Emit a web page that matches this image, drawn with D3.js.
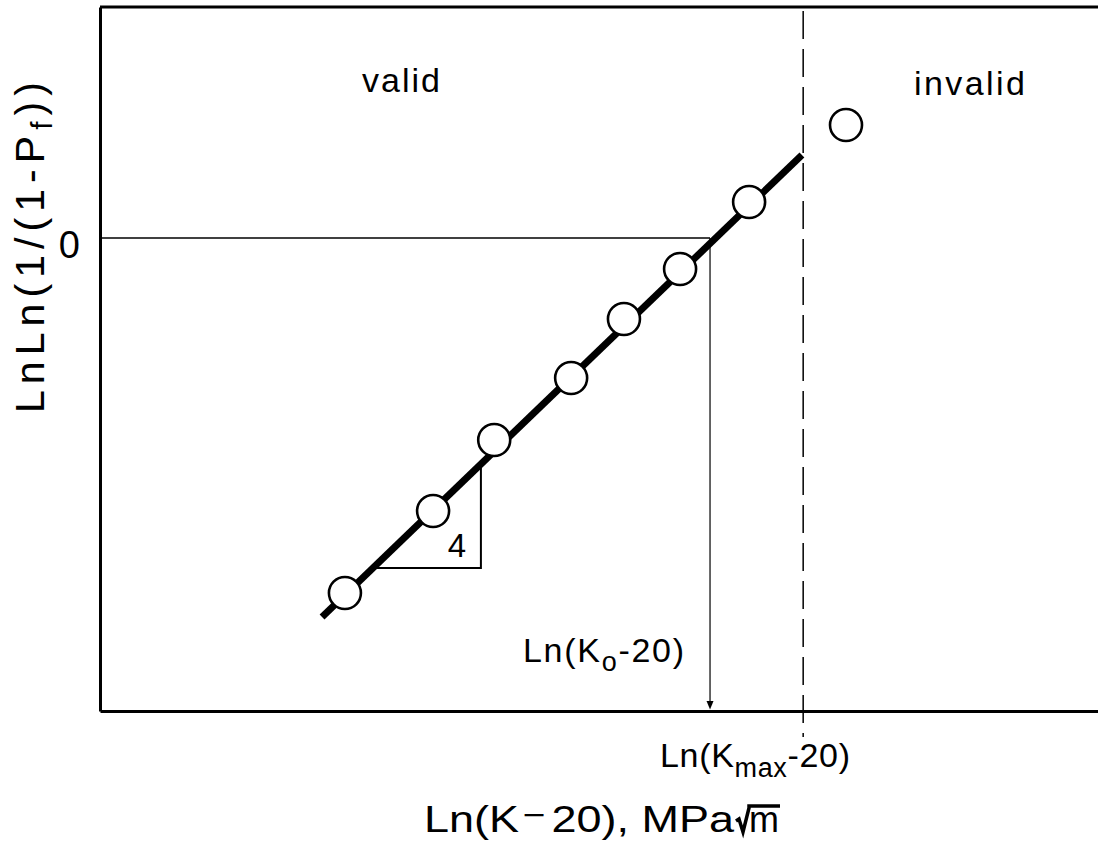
<!DOCTYPE html>
<html><head><meta charset="utf-8">
<script src="https://cdn.jsdelivr.net/npm/d3@7"></script>
<style>
html,body{margin:0;padding:0;background:#fff;}
svg{display:block;}
text{font-family:"Liberation Sans",Arial,sans-serif;fill:#000;}
</style></head>
<body>
<svg id="chart" width="1098" height="845"></svg>
<script>
// ---- data (arbitrary log units) ----
const validLnK = [2.589, 2.801, 2.948, 3.133, 3.260, 3.395, 3.561];
const validLnLn = [-3.55, -2.73, -2.02, -1.40, -0.81, -0.31, 0.36];
const invalidLnK = [3.794];
const invalidLnLn = [1.13];
const fitLnK = [2.534, 3.688];
const fitLnLn = [-3.79, 0.83];
const slopeTriLnK = [2.666, 2.916, 2.916];
const slopeTriLnLn = [-3.30, -3.30, -2.28];
const slopeLabel = "4";
const lnK0 = 3.467;
const lnKmax = 3.691;
const yTickValues = [0];
const xDomain = [2.0, 4.4];
const yDomain = [-4.73, 2.31];

const svg = d3.select("#chart");
const x = d3.scaleLinear().domain(xDomain).range([100, 1098]);
const y = d3.scaleLinear().domain(yDomain).range([711, 7]);

// frame: top border, left axis, bottom axis
svg.append("line").attr("x1", x(xDomain[0])).attr("x2", x(xDomain[1]))
  .attr("y1", y(yDomain[1])).attr("y2", y(yDomain[1]))
  .attr("stroke", "#000").attr("stroke-width", 3);

const yAxis = d3.axisLeft(y).tickValues(yTickValues).tickSize(0).tickPadding(20).tickFormat(d3.format("d"));
const gy = svg.append("g").attr("transform", `translate(${x(xDomain[0])},0)`).call(yAxis);
gy.select(".domain").attr("stroke", "#000").attr("stroke-width", 3);
gy.selectAll(".tick text").attr("font-size", 38).attr("font-family", "Liberation Sans, Arial, sans-serif").attr("dy", "0.5em");

const xAxis = d3.axisBottom(x).tickValues([]).tickSize(0);
const gx = svg.append("g").attr("transform", `translate(0,${y(yDomain[0])})`).call(xAxis);
gx.select(".domain").attr("stroke", "#000").attr("stroke-width", 3);

// zero reference line up to K0
svg.append("line").attr("x1", x(xDomain[0])).attr("x2", x(lnK0))
  .attr("y1", y(0)).attr("y2", y(0)).attr("stroke", "#000").attr("stroke-width", 1.5);
// vertical arrow down from K0
svg.append("line").attr("x1", x(lnK0)).attr("x2", x(lnK0))
  .attr("y1", y(0)).attr("y2", y(yDomain[0]) - 6).attr("stroke", "#000").attr("stroke-width", 1.2);
svg.append("path")
  .attr("d", `M${x(lnK0) - 3.5},${y(yDomain[0]) - 10} L${x(lnK0) + 3.5},${y(yDomain[0]) - 10} L${x(lnK0)},${y(yDomain[0]) - 1.5} Z`)
  .attr("fill", "#000");

// dashed Kmax line
svg.append("line").attr("x1", x(lnKmax)).attr("x2", x(lnKmax))
  .attr("y1", y(yDomain[1]) + 4).attr("y2", y(-4.99))
  .attr("stroke", "#000").attr("stroke-width", 1.5).attr("stroke-dasharray", "28,10");

// slope triangle
svg.append("path")
  .attr("d", d3.line().x((d, i) => x(slopeTriLnK[i])).y((d, i) => y(slopeTriLnLn[i]))(slopeTriLnK))
  .attr("fill", "none").attr("stroke", "#000").attr("stroke-width", 2);
svg.append("text").attr("x", x(slopeTriLnK[1]) - 24).attr("y", y(slopeTriLnLn[0]) - 11)
  .attr("text-anchor", "middle").attr("font-size", 33).text(slopeLabel);

// fit line
svg.append("path")
  .attr("d", d3.line().x((d, i) => x(fitLnK[i])).y((d, i) => y(fitLnLn[i]))(fitLnK))
  .attr("fill", "none").attr("stroke", "#000").attr("stroke-width", 7).attr("stroke-linecap", "butt");

// points
const pts = validLnK.map((v, i) => [v, validLnLn[i]]).concat(invalidLnK.map((v, i) => [v, invalidLnLn[i]]));
svg.selectAll("circle.pt").data(pts).enter().append("circle").attr("class", "pt")
  .attr("cx", d => x(d[0])).attr("cy", d => y(d[1])).attr("r", 16)
  .attr("fill", "#fff").attr("stroke", "#000").attr("stroke-width", 2.6);

// region labels
svg.append("text").attr("x", 362).attr("y", 92).attr("font-size", 34)
  .attr("textLength", 78).attr("lengthAdjust", "spacing").text("valid");
svg.append("text").attr("x", 914).attr("y", 95).attr("font-size", 34)
  .attr("textLength", 111).attr("lengthAdjust", "spacing").text("invalid");

// helper for rich text
function rich(parent, parts, attrs) {
  const t = parent.append("text");
  Object.entries(attrs).forEach(([k, v]) => t.attr(k, v));
  parts.forEach(p => {
    const s = t.append("tspan").text(p.t);
    if (p.dy) s.attr("dy", p.dy);
    if (p.dx) s.attr("dx", p.dx);
    if (p.size) s.attr("font-size", p.size);
  });
  return t;
}

// K0 label
rich(svg, [{t: "Ln(K"}, {t: "o", dy: 9, size: 27}, {t: "-20)", dy: -9}],
  {x: 523, y: 662, "font-size": 34, textLength: 161, lengthAdjust: "spacing"});
// Kmax label
rich(svg, [{t: "Ln(K"}, {t: "max", dy: 10, size: 27}, {t: "-20)", dy: -10}],
  {x: 660, y: 767, "font-size": 34, textLength: 190, lengthAdjust: "spacing"});

// y axis title
rich(svg, [{t: "LnLn(1/(1-P"}, {t: "f", dy: 8, size: 30}, {t: "))", dy: -8}],
  {transform: "translate(44,413) rotate(-90)", "font-size": 41, textLength: 331, lengthAdjust: "spacing"});

// x axis title with radical
const b = 832;
const xStart = 424, xEnd = 734;
rich(svg, [{t: "Ln(K"}, {t: "\u2212", dy: -6, dx: 3, size: 32}, {t: "20), MPa", dy: 6, dx: 5}],
  {x: xStart, y: b, "font-size": 37, textLength: xEnd - xStart, lengthAdjust: "spacingAndGlyphs"});
const mx = xEnd + 15;
svg.append("text").attr("x", mx).attr("y", b).attr("font-size", 37)
  .attr("textLength", 30).attr("lengthAdjust", "spacingAndGlyphs").text("m");
const mw = 31;
svg.append("path")
  .attr("d", `M${xEnd + 2},${b - 11} L${xEnd + 5},${b - 13} L${xEnd + 9},${b} L${mx},${b - 24} L${mx},${b - 26} L${mx + mw},${b - 26}`)
  .attr("fill", "none").attr("stroke", "#000").attr("stroke-width", 3.5).attr("stroke-linejoin", "miter");
</script>
</body></html>
